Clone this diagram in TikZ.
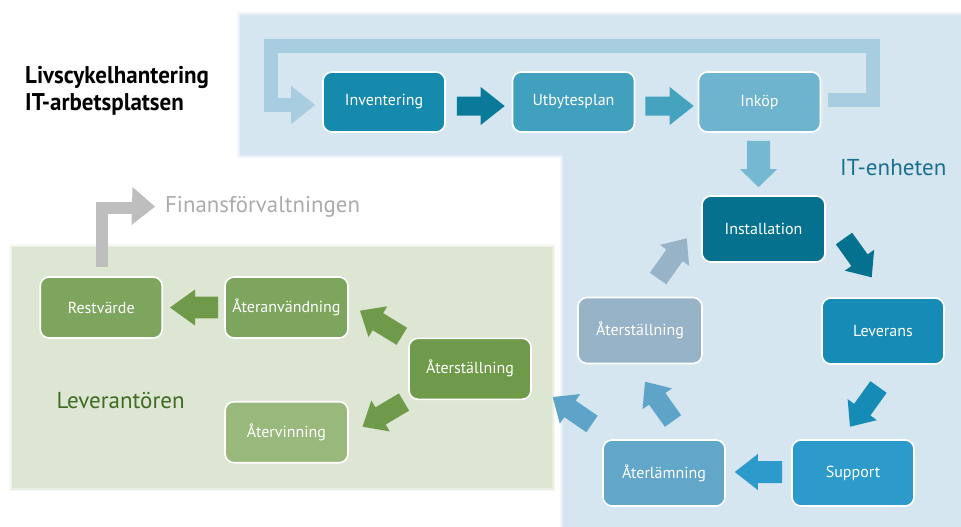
\documentclass[tikz,border=0pt]{standalone}
\usepackage{fontspec}
\setmainfont{PT Sans}
\newfontfamily\labfont{PT Sans}
\newfontfamily\titlefont[FakeStretch=0.95]{PT Sans}
\usetikzlibrary{calc}
\definecolor{panelblue}{HTML}{D6E6F0}
\definecolor{panelgreen}{HTML}{DDE5D3}
\definecolor{loopblue}{HTML}{A8CCE0}
\definecolor{cInv}{HTML}{168AAD}
\definecolor{aInv}{HTML}{0A7A9A}
\definecolor{cUtb}{HTML}{41A0BE}
\definecolor{aUtb}{HTML}{45A3C0}
\definecolor{cInk}{HTML}{6EB4CE}
\definecolor{aInk}{HTML}{75B8D2}
\definecolor{cInst}{HTML}{06718F}
\definecolor{cLev}{HTML}{168BB5}
\definecolor{cSup}{HTML}{2C9BCC}
\definecolor{cAterl}{HTML}{62A6C9}
\definecolor{aAterl}{HTML}{5DA4C8}
\definecolor{cAtersb}{HTML}{97B3C7}
\definecolor{cGreen}{HTML}{7EA55E}
\definecolor{cGreenDark}{HTML}{6E9A4A}
\definecolor{cGreenLight}{HTML}{99B87C}
\definecolor{itText}{HTML}{1A6F8C}
\definecolor{levText}{HTML}{3F6B22}
\definecolor{finText}{HTML}{ABABAB}
\definecolor{grayArrow}{HTML}{BEBEBE}
\newcommand\boxfont{\labfont\fontsize{16}{19}\selectfont}
% block arrow: #1 tail, #2 tip, #3 half shaft, #4 half head, #5 head length, #6 colour
\newcommand\blockarr[6]{%
  \coordinate (hb) at ($(#2)!#5!(#1)$);
  \fill[#6] ($(#1)!#3!90:(#2)$) -- ($(hb)!#3!90:(#2)$) -- ($(hb)!#4!90:(#2)$)
    -- (#2) -- ($(hb)!#4!-90:(#2)$) -- ($(hb)!#3!-90:(#2)$) -- ($(#1)!#3!-90:(#2)$) -- cycle;
}
\begin{document}
\begin{tikzpicture}[x=1pt,y=-1pt,
  box/.style={rounded corners=9pt, draw=white, line width=1.6pt,
    minimum width=122pt, minimum height=64pt, text=white, font=\boxfont, inner sep=0pt}]
\useasboundingbox (0,0) rectangle (961,527);
\fill[white] (0,0) rectangle (961,527);
% panels with soft edges
\foreach \d/\o in {3/0.25,1.5/0.5,0/1}{
  \fill[panelblue,opacity=\o] (240-\d,15-\d) -- (961,15-\d) -- (961,527) -- (563-\d,527)
     -- (563-\d,155+\d) -- (240-\d,155+\d) -- cycle;
  \fill[panelgreen,opacity=\o] (12-\d,247-\d) rectangle (552+\d,488+\d);
}
% nodes
\node[box, fill=cInv, minimum height=60pt] (inv) at (384,102) {Inventering};
\node[box, fill=cUtb, minimum height=60pt] (utb) at (573.5,102) {Utbytesplan};
\node[box, fill=cInk, minimum height=60pt] (ink) at (759.5,102) {Inköp};
\node[box, fill=cInst, minimum height=66pt, minimum width=123pt] (inst) at (763.5,229) {Installation};
\node[box, fill=cLev, minimum height=66pt] (lev) at (883,331) {Leverans};
\node[box, fill=cSup, minimum height=66pt] (sup) at (853,473) {Support};
\node[box, fill=cAterl, minimum height=66pt] (aterl) at (664,473) {Återlämning};
\node[box, fill=cAtersb, minimum height=66pt, minimum width=124pt] (atersb) at (640,330.5) {Återställning};
\node[box, fill=cGreen, minimum height=61pt] (rest) at (101.2,307.5) {Restvärde};
\node[box, fill=cGreen, minimum height=61pt, minimum width=123pt] (ateranv) at (286.5,307.5) {Återanvändning};
\node[box, fill=cGreenDark, minimum height=61pt] (atersg) at (470,368.8) {Återställning};
\node[box, fill=cGreenLight, minimum height=61pt, minimum width=123pt] (aterv) at (286.5,432.2) {Återvinning};
% texts
\node[anchor=base west, font=\titlefont\bfseries\fontsize{24.2}{28}\selectfont, inner sep=0pt] (t1) at (25,83.3) {Livscykelhantering};
\node[anchor=base west, font=\titlefont\bfseries\fontsize{24.2}{28}\selectfont, inner sep=0pt] (t2) at (25,110.7) {IT-arbetsplatsen};
\node[anchor=base east, font=\labfont\fontsize{23}{26}\selectfont, text=itText, inner sep=0pt] (iten) at (946.5,175) {IT-enheten};
\node[anchor=base west, font=\labfont\fontsize{23}{26}\selectfont, text=levText, inner sep=0pt] (levt) at (56.4,408.3) {Leverantören};
\node[anchor=base west, font=\labfont\fontsize{22.8}{26}\selectfont, text=finText, inner sep=0pt] (fin) at (165,212.3) {Finansförvaltningen};
% top loop
\coordinate (lpS) at ([shift={(7,-2)}]ink.east);
\coordinate (lpR) at (873,46);
\coordinate (lpL) at (271,46);
\coordinate (lpE) at ([shift={(-31,3)}]inv.west);
\draw[loopblue, line width=14pt, line join=miter] (lpS) -| (lpR) -- (lpL) |- (lpE);
\coordinate (lpT) at ([shift={(-7,3)}]inv.west);
\coordinate (lpB) at ([shift={(-32,3)}]inv.west);
\blockarr{lpB}{lpT}{0.1pt}{19pt}{24pt}{loopblue}
% top row arrows
\coordinate (a1s) at ([shift={(11,4)}]inv.east);
\coordinate (a1e) at ([shift={(-7,4)}]utb.west);
\blockarr{a1s}{a1e}{9.5pt}{19pt}{24pt}{aInv}
\coordinate (a2s) at ([shift={(10,4)}]utb.east);
\coordinate (a2e) at ([shift={(-4,4)}]ink.west);
\blockarr{a2s}{a2e}{9.5pt}{19pt}{24pt}{aUtb}
\coordinate (a3s) at ([shift={(-1,8)}]ink.south);
\coordinate (a3e) at ([shift={(-5,-8)}]inst.north);
\blockarr{a3s}{a3e}{11.5pt}{18.5pt}{18pt}{aInk}
% cycle arrows
\coordinate (a4s) at (844,238.5);
\coordinate (a4e) at (871.7,277.3);
\blockarr{a4s}{a4e}{10pt}{18pt}{21pt}{cInst}
\coordinate (a5s) at (878.5,387);
\coordinate (a5e) at (850,426.7);
\blockarr{a5s}{a5e}{10pt}{18pt}{21pt}{cLev}
\coordinate (a6s) at ([shift={(-9,-1)}]sup.west);
\coordinate (a6e) at ([shift={(9,-1)}]aterl.east);
\blockarr{a6s}{a6e}{11pt}{18pt}{23pt}{cSup}
\coordinate (a7s) at (673,421);
\coordinate (a7e) at (645,381.7);
\blockarr{a7s}{a7e}{10pt}{18pt}{21pt}{aAterl}
\coordinate (a8s) at (658,278.5);
\coordinate (a8e) at (686.7,238.3);
\blockarr{a8s}{a8e}{10pt}{18pt}{21pt}{cAtersb}
\coordinate (a9s) at (592,424);
\coordinate (a9e) at (552.7,397);
\blockarr{a9s}{a9e}{10pt}{18pt}{21pt}{aAterl}
% green arrows
\coordinate (g1s) at ([shift={(-6,0)}]ateranv.west);
\coordinate (g1e) at ([shift={(7,0)}]rest.east);
\blockarr{g1s}{g1e}{10.8pt}{18pt}{25pt}{cGreenDark}
\coordinate (g2s) at (401.8,336.3);
\coordinate (g2e) at (360,310.7);
\blockarr{g2s}{g2e}{10pt}{18pt}{21pt}{cGreenDark}
\coordinate (g3s) at (404,402);
\coordinate (g3e) at (362.5,426.7);
\blockarr{g3s}{g3e}{10pt}{18pt}{21pt}{cGreenDark}
% gray arrow to Finansförvaltningen
\coordinate (fs) at ([shift={(0.6,-9.5)}]rest.north);
\coordinate (fb) at (133,207.5);
\draw[grayArrow, line width=12pt, line join=miter] (fs) |- (fb);
\coordinate (fbb) at (132,206);
\coordinate (ft) at ([shift={(-10,0)}]fin.west);
\blockarr{fbb}{ft}{0.1pt}{19pt}{23pt}{grayArrow}
\end{tikzpicture}
\end{document}
